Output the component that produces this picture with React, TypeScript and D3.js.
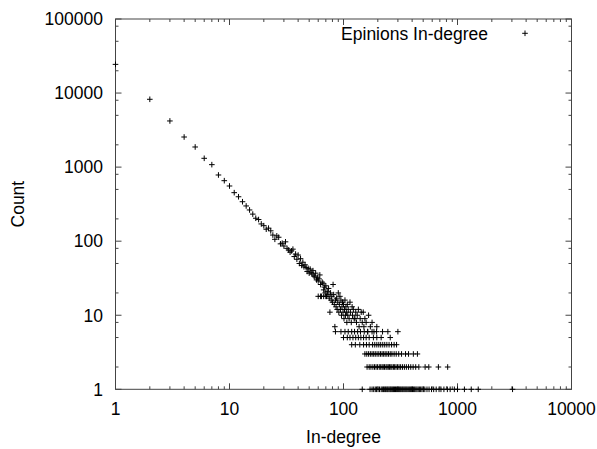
import React from "react";
import * as d3 from "d3";

// Head of the distribution: one point per degree
const headDegrees = [1, 2, 3, 4, 5, 6, 7, 8, 9, 10, 11, 12, 13, 14, 15, 16, 17, 18, 19, 20, 21, 22, 23, 24, 25, 26, 27, 28, 29, 30, 31, 32, 33, 34, 35, 36, 37, 38, 39, 40, 41, 42, 43, 44, 45, 46, 47, 48, 49, 50];
const headCounts = [24400, 8240, 4200, 2550, 1870, 1315, 1080, 783, 656, 556, 452, 398, 341, 299, 264, 232, 204, 196, 171, 162, 145, 150, 138, 121, 106, 118, 113, 92, 94, 86, 98, 80, 76, 71, 74, 78, 62, 67, 57, 65, 50, 58, 47, 52, 45, 48, 44, 39, 43, 37];

// Middle band (scattered)
const midDegrees = [51, 52, 53, 54, 55, 56, 57, 58, 59, 60, 61, 62, 63, 64, 65, 66, 67, 68, 69, 70, 71, 72, 73, 74, 75, 76, 77, 78, 79, 80, 81, 82, 83, 84, 85, 86, 87, 88, 89, 90, 91, 92, 93, 94, 95, 96, 97, 98, 99, 100, 101, 102, 103, 104, 105, 106, 107, 108, 109, 110, 112, 114, 115, 117, 119, 120, 122, 124, 126, 128, 130, 132, 135, 137, 140, 143, 146, 149, 151, 154, 158, 163, 166, 172, 178, 185, 196, 60, 63, 67, 70];
const midCounts = [42, 38, 36, 40, 34, 33, 37, 30, 32, 29, 31, 35, 26, 18, 28, 27, 22, 24, 20, 25, 18, 21, 19, 23, 17, 11, 20, 16, 18, 15, 26, 19, 14, 7, 16, 13, 17, 12, 15, 20, 11, 14, 18, 12, 16, 10, 13, 15, 11, 14, 9, 12, 16, 10, 13, 11, 8, 14, 10, 12, 9, 15, 11, 8, 13, 10, 12, 9, 9, 11, 8, 10, 12, 7, 9, 11, 8, 11, 7, 9, 8, 6, 10, 7, 8, 6, 7, 18, 18, 18, 18];

// Low-count rows: degrees observed with count 1..6
const onesDegrees = [146, 171, 178, 184, 190, 195, 201, 207, 214, 219, 224, 228, 233, 237, 242, 246, 251, 256, 260, 265, 270, 275, 280, 286, 291, 297, 303, 309, 315, 321, 328, 334, 341, 348, 355, 362, 370, 378, 386, 394, 403, 412, 421, 431, 441, 452, 463, 475, 488, 502, 517, 540, 563, 592, 618, 650, 689, 716, 760, 815, 862, 938, 1000, 1150, 1320, 1520, 3040];
const twosDegrees = [161, 168, 174, 181, 187, 193, 199, 206, 212, 218, 223, 229, 236, 241, 247, 253, 260, 266, 274, 281, 289, 298, 307, 317, 329, 342, 356, 372, 389, 408, 430, 458, 520, 560, 680, 820];
const threesDegrees = [154, 160, 166, 172, 178, 184, 190, 197, 204, 211, 218, 225, 232, 240, 248, 257, 266, 278, 290, 305, 323, 350, 372, 410, 445];
const foursDegrees = [118, 127, 139, 150, 159, 168, 180, 188, 196, 204, 212, 221, 230, 240, 251, 264, 278, 292];
const fivesDegrees = [100, 108, 114, 121, 128, 135, 142, 150, 158, 168, 183, 196, 214, 257];
const sixesDegrees = [85, 95, 103, 110, 118, 125, 133, 141, 152, 163, 178, 195, 220, 245, 300];

const xTickValues = [1, 10, 100, 1000, 10000];
const xTickLabels = ["1", "10", "100", "1000", "10000"];
const yTickValues = [1, 10, 100, 1000, 10000, 100000];
const yTickLabels = ["1", "10", "100", "1000", "10000", "100000"];
const seriesName = "Epinions In-degree";
const xTitle = "In-degree";
const yTitle = "Count";

export default function App() {
  const W = 597, H = 449;
  const L = 115.5, R = 571.5, T = 19, B = 389.3;
  const x = d3.scaleLog().domain([1, 10000]).range([L, R]);
  const y = d3.scaleLog().domain([1, 100000]).range([B, T]);

  const points: [number, number][] = [];
  headDegrees.forEach((d, i) => points.push([d, headCounts[i]]));
  midDegrees.forEach((d, i) => points.push([d, midCounts[i]]));
  const rows: [number[], number][] = [
    [onesDegrees, 1], [twosDegrees, 2], [threesDegrees, 3],
    [foursDegrees, 4], [fivesDegrees, 5], [sixesDegrees, 6],
  ];
  rows.forEach(([ds, c]) => ds.forEach((d) => points.push([d, c])));

  const xMinor: number[] = [];
  for (let k = 0; k < 4; k++) for (let m = 2; m <= 9; m++) xMinor.push(m * Math.pow(10, k));
  const yMinor: number[] = [];
  for (let k = 0; k < 5; k++) for (const m of [2, 5, 8]) yMinor.push(m * Math.pow(10, k));

  const font = "'Liberation Sans', Arial, sans-serif";
  const fs = 17.5;
  const axisColor = "#444";
  const arm = 2.8;
  const plus = (cx: number, cy: number, key: string | number) => (
    <path key={key} d={`M${cx - arm},${cy}H${cx + arm}M${cx},${cy - arm}V${cy + arm}`} stroke="#000" strokeWidth={1} fill="none" />
  );

  return (
    <svg width={W} height={H} style={{ position: "absolute", left: 0, top: 0, background: "#fff" }} fontFamily={font}>
      <rect x={0} y={0} width={W} height={H} fill="#fff" />
      {/* frame */}
      <rect x={L} y={T} width={R - L} height={B - T} fill="none" stroke={axisColor} strokeWidth={1} />
      {/* x ticks */}
      {xTickValues.map((v) => (
        <g key={"xt" + v}>
          <line x1={x(v)} x2={x(v)} y1={B} y2={B - 6} stroke={axisColor} />
          <line x1={x(v)} x2={x(v)} y1={T} y2={T + 6} stroke={axisColor} />
        </g>
      ))}
      {xMinor.map((v) => (
        <g key={"xm" + v}>
          <line x1={x(v)} x2={x(v)} y1={B} y2={B - 3} stroke={axisColor} />
          <line x1={x(v)} x2={x(v)} y1={T} y2={T + 3} stroke={axisColor} />
        </g>
      ))}
      {yTickValues.map((v) => (
        <g key={"yt" + v}>
          <line x1={L} x2={L + 6} y1={y(v)} y2={y(v)} stroke={axisColor} />
          <line x1={R} x2={R - 6} y1={y(v)} y2={y(v)} stroke={axisColor} />
        </g>
      ))}
      {yMinor.map((v) => (
        <g key={"ym" + v}>
          <line x1={L} x2={L + 3} y1={y(v)} y2={y(v)} stroke={axisColor} />
          <line x1={R} x2={R - 3} y1={y(v)} y2={y(v)} stroke={axisColor} />
        </g>
      ))}
      {/* tick labels */}
      {xTickValues.map((v, i) => (
        <text key={"xl" + v} x={x(v)} y={415} textAnchor="middle" fontSize={fs} fill="#000">{xTickLabels[i]}</text>
      ))}
      {yTickValues.map((v, i) => (
        <text key={"yl" + v} x={103} y={y(v) + 6.3} textAnchor="end" fontSize={fs} fill="#000">{yTickLabels[i]}</text>
      ))}
      {/* axis titles */}
      <text x={(L + R) / 2} y={443} textAnchor="middle" fontSize={fs} fill="#000">{xTitle}</text>
      <text transform={`translate(24,${(T + B) / 2}) rotate(-90)`} textAnchor="middle" fontSize={fs} fill="#000">{yTitle}</text>
      {/* legend */}
      <text x={488} y={39.5} textAnchor="end" fontSize={fs} fill="#000">{seriesName}</text>
      {plus(525, 33.3, "legend")}
      {/* points */}
      {points.map(([d, c], i) => plus(x(d), y(c), i))}
    </svg>
  );
}
